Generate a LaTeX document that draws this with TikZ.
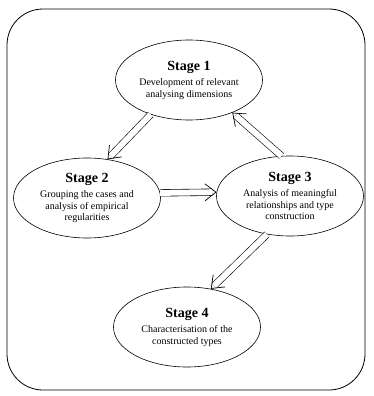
\documentclass[tikz,border=0pt]{standalone}
\usepackage{fontspec}
\setmainfont{Liberation Serif}
\usetikzlibrary{shapes.geometric,arrows.meta,calc}
\newcommand{\stagetitle}[1]{{\fontsize{14}{14}\selectfont\bfseries #1}}

\begin{document}
\begin{tikzpicture}[x=1pt, y=-1pt,
    stage/.style={draw, ellipse, line width=0.6pt, minimum width=147pt, minimum height=80pt, inner sep=0pt, align=center, font=\fontsize{10}{11.5}\selectfont},
    flow/.style={double, double distance=6pt, line width=0.6pt, shorten >=4.5pt},
    flowtip/.style={-{Straight Barb[length=11pt, width=17pt, line width=0.7pt]}}]
    \useasboundingbox (0,0) rectangle (373,396);
    \draw[line width=0.8pt, rounded corners=36pt] (7,9) rectangle (365,390);

    \node[stage] (S1) at (189,80) {\stagetitle{Stage 1}\\[4pt] Development of relevant\\ analysing dimensions};
    \node[stage] (S2) at (87,198) {\stagetitle{Stage 2}\\[4pt] Grouping the cases and\\ analysis of empirical\\ regularities};
    \node[stage] (S3) at (290,196) {\stagetitle{Stage 3}\\[4pt] Analysis of meaningful\\ relationships and type\\ construction};
    \node[stage] (S4) at (187,327) {\stagetitle{Stage 4}\\[4pt] Characterisation of the\\ constructed types};

    \draw[flow] (S1.222) -- (S2.62);
    \draw[flowtip] ($(S1.222)!0.995!(S2.62)$) -- (S2.62);
    \draw[flow] (S3.102) -- (S1.323);
    \draw[flowtip] ($(S3.102)!0.995!(S1.323)$) -- (S1.323);
    \draw[flow] (S2.4) -- (S3.177);
    \draw[flowtip] ($(S2.4)!0.995!(S3.177)$) -- (S3.177);
    \draw[flow] (S3.239) -- (S4.58);
    \draw[flowtip] ($(S3.239)!0.995!(S4.58)$) -- (S4.58);
\end{tikzpicture}
\end{document}
